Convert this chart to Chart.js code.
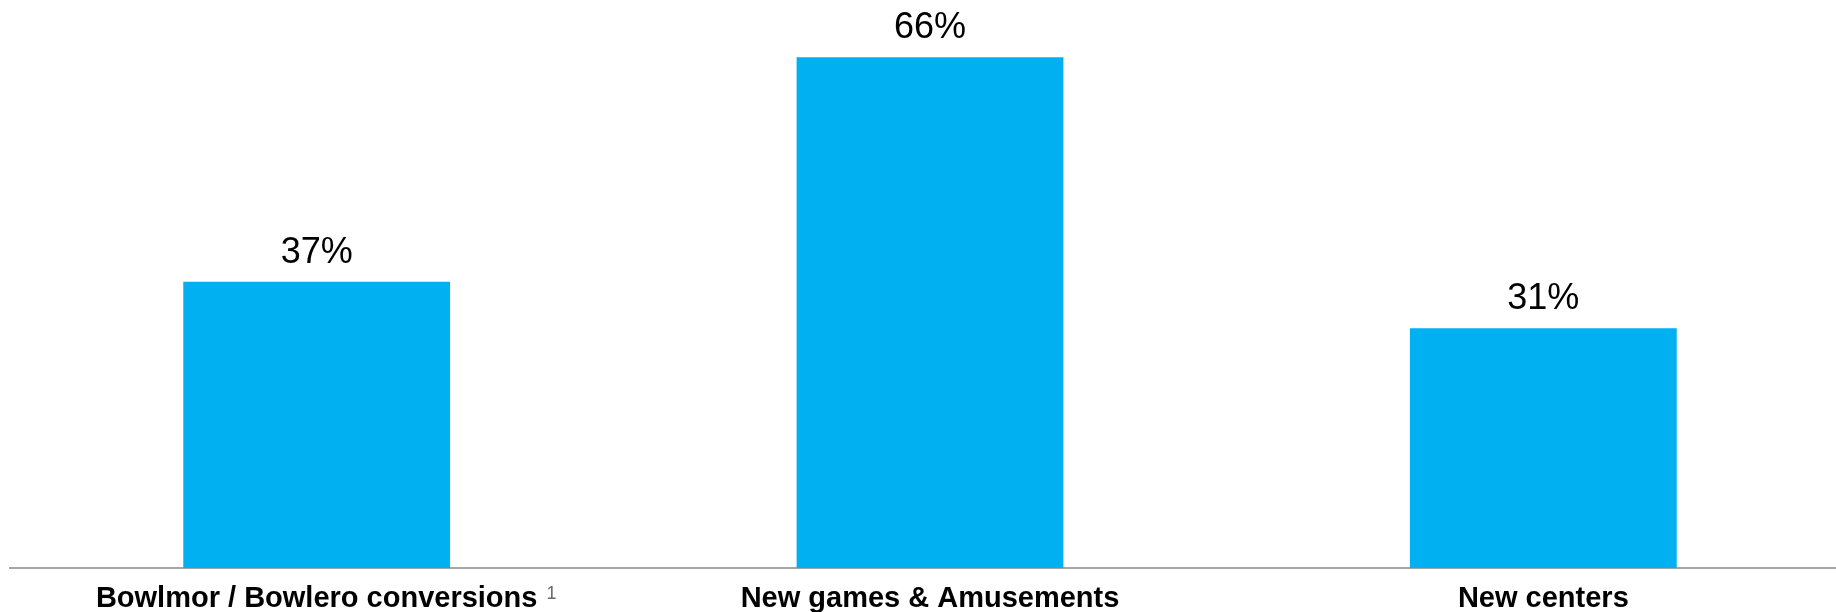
<!DOCTYPE html>
<html lang="en">
<head>
    <meta charset="UTF-8">
    <title>Growth drivers</title>
    <script src="https://cdn.jsdelivr.net/npm/chart.js"></script>
    <style>
        html, body {
            margin: 0;
            padding: 0;
            background: #fff;
            overflow: hidden;
        }
        #wrap {
            position: relative;
            width: 1850px;
            height: 629px;
        }
    </style>
</head>
<body>
    <div id="wrap"><canvas id="growthChart"></canvas></div>

    <script>
        const categories = ['Bowlmor / Bowlero conversions', 'New games & Amusements', 'New centers'];
        const footnotes = ['1', '', ''];
        const growthPct = [37, 66, 31];

        const barColor = '#00B0F0';
        const fontFamily = '"Liberation Sans", Arial, sans-serif';

        // value labels above each bar, plus the footnote marker after a tick label
        const labelPlugin = {
            id: 'barLabels',
            afterDatasetsDraw(chart) {
                const ctx = chart.ctx;
                const meta = chart.getDatasetMeta(0);
                ctx.save();
                ctx.fillStyle = '#000';
                ctx.font = '36px ' + fontFamily;
                ctx.textAlign = 'center';
                ctx.textBaseline = 'alphabetic';
                meta.data.forEach((bar, i) => {
                    ctx.fillText(growthPct[i] + '%', bar.x, bar.y - 19);
                });

                const xScale = chart.scales.x;
                footnotes.forEach((note, i) => {
                    if (!note) return;
                    ctx.font = 'bold 29px ' + fontFamily;
                    const w = ctx.measureText(categories[i]).width;
                    const x = xScale.getPixelForValue(i) + w / 2 + 9;
                    ctx.font = '18px ' + fontFamily;
                    ctx.fillStyle = '#6a6a6a';
                    ctx.textAlign = 'left';
                    ctx.textBaseline = 'top';
                    ctx.fillText(note, x, xScale.top + 17);
                });
                ctx.restore();
            }
        };

        new Chart(document.getElementById('growthChart'), {
            type: 'bar',
            data: {
                labels: categories,
                datasets: [{
                    data: growthPct,
                    backgroundColor: barColor,
                    borderWidth: 0,
                    categoryPercentage: 1,
                    barPercentage: 0.435
                }]
            },
            options: {
                responsive: true,
                maintainAspectRatio: false,
                animation: false,
                layout: { padding: { left: 10, right: 0, top: 0, bottom: 0 } },
                plugins: {
                    legend: { display: false },
                    tooltip: { enabled: false }
                },
                scales: {
                    x: {
                        grid: { display: false, drawTicks: false },
                        border: { display: true, color: '#a6a6a6', width: 2 },
                        ticks: {
                            color: '#000',
                            padding: 13,
                            maxRotation: 0,
                            autoSkip: false,
                            font: { family: fontFamily, size: 29, weight: 'bold' }
                        }
                    },
                    y: {
                        display: false,
                        min: 0,
                        max: 73.4
                    }
                }
            },
            plugins: [labelPlugin]
        });
    </script>
</body>
</html>
